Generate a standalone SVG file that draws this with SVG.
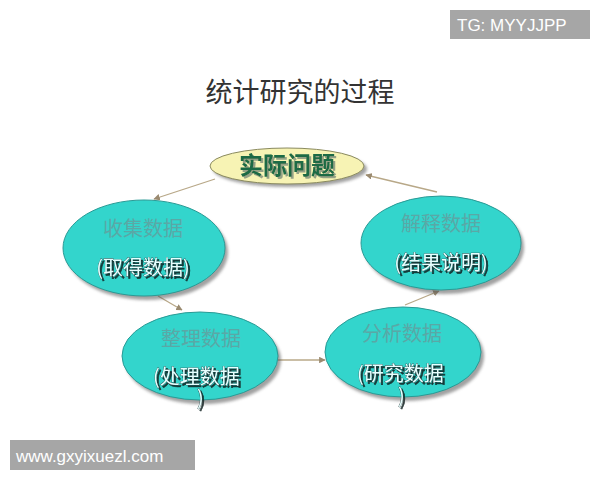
<svg xmlns="http://www.w3.org/2000/svg" width="600" height="480" viewBox="0 0 600 480">
<defs>
<style>
.sh{fill:#555;opacity:0.55}
.teal{fill:#33d5cc;stroke:#2a9a95;stroke-width:1}
.top{fill:#f7f3b4;stroke:#8a8a60;stroke-width:1}
.t1{font-family:"Noto Sans CJK SC","Liberation Sans",sans-serif;font-size:20px;fill:#5aa8a6;text-anchor:middle}
.t2{font-family:"Noto Sans CJK SC","Liberation Sans",sans-serif;font-size:20px;fill:#e8ffff;stroke:#1d3d3d;stroke-width:0.6;paint-order:stroke;filter:url(#tsh)}
.conn{stroke:#b8a888;stroke-width:1.3;fill:none;marker-end:url(#ah)}
.wm{font-family:"Liberation Sans",sans-serif;font-size:17px;fill:#fff}
</style>
<marker id="ah" viewBox="0 0 10 10" refX="9" refY="5" markerWidth="5" markerHeight="5" orient="auto">
<path d="M0,0 L10,5 L0,10 z" fill="#9a8a70"/>
</marker>
<filter id="blur" x="-20%" y="-20%" width="140%" height="140%"><feGaussianBlur stdDeviation="1.5"/></filter>
<filter id="tsh" x="-10%" y="-20%" width="130%" height="160%"><feDropShadow dx="2" dy="2" stdDeviation="0.6" flood-color="#112222" flood-opacity="0.85"/></filter>
<filter id="tsh2" x="-10%" y="-20%" width="130%" height="160%"><feDropShadow dx="2" dy="2" stdDeviation="0.6" flood-color="#8a9a80" flood-opacity="0.9"/></filter>
</defs>
<rect width="600" height="480" fill="#fff"/>
<text x="300" y="102" font-family="Noto Sans CJK SC,Liberation Sans,sans-serif" font-size="27" fill="#333" text-anchor="middle">统计研究的过程</text>

<g id="connectors">
<line class="conn" x1="215" y1="179" x2="154" y2="199"/>
<line class="conn" x1="158" y1="296" x2="182" y2="310"/>
<line class="conn" x1="277" y1="360" x2="325" y2="360"/>
<line class="conn" x1="405" y1="305" x2="439" y2="291"/>
<line class="conn" x1="437" y1="192" x2="366" y2="175"/>
</g>

<g id="node-shiji">
<ellipse cx="290" cy="169" rx="77" ry="18" class="sh" filter="url(#blur)"/>
<ellipse cx="287" cy="166" rx="77" ry="18" class="top"/>
<text x="287" y="174" font-family="Noto Sans CJK SC,Liberation Sans,sans-serif" font-size="24" font-weight="bold" fill="#1d6b45" text-anchor="middle" filter="url(#tsh2)">实际问题</text>
</g>

<g id="node-shouji">
<ellipse cx="147" cy="252" rx="81" ry="48" class="sh" filter="url(#blur)"/>
<ellipse cx="144" cy="248" rx="81" ry="48" class="teal"/>
<text x="143" y="236" class="t1">收集数据</text>
<text x="143" y="275" class="t2" text-anchor="middle">(取得数据)</text>
</g>

<g id="node-jieshi">
<ellipse cx="444" cy="247" rx="80" ry="47" class="sh" filter="url(#blur)"/>
<ellipse cx="441" cy="243" rx="80" ry="47" class="teal"/>
<text x="441" y="231" class="t1">解释数据</text>
<text x="441" y="270" class="t2" text-anchor="middle">(结果说明)</text>
</g>

<g id="node-zhengli">
<ellipse cx="203" cy="360" rx="78" ry="44" class="sh" filter="url(#blur)"/>
<ellipse cx="200" cy="356" rx="78" ry="44" class="teal"/>
<text x="201" y="346" class="t1">整理数据</text>
<text class="t2"><tspan x="153" y="384">(处理数据</tspan><tspan x="197" y="405">)</tspan></text>
</g>

<g id="node-fenxi">
<ellipse cx="406" cy="356" rx="78" ry="45" class="sh" filter="url(#blur)"/>
<ellipse cx="403" cy="352" rx="78" ry="45" class="teal"/>
<text x="402" y="341" class="t1">分析数据</text>
<text class="t2"><tspan x="357" y="381">(研究数据</tspan><tspan x="398" y="403">)</tspan></text>
</g>

<rect x="450" y="10" width="140" height="29" fill="#a6a6a6"/>
<text x="457" y="31" class="wm">TG: MYYJJPP</text>
<rect x="10" y="440" width="185" height="30" fill="#a6a6a6"/>
<text x="16" y="462" class="wm">www.gxyixuezl.com</text>
</svg>
